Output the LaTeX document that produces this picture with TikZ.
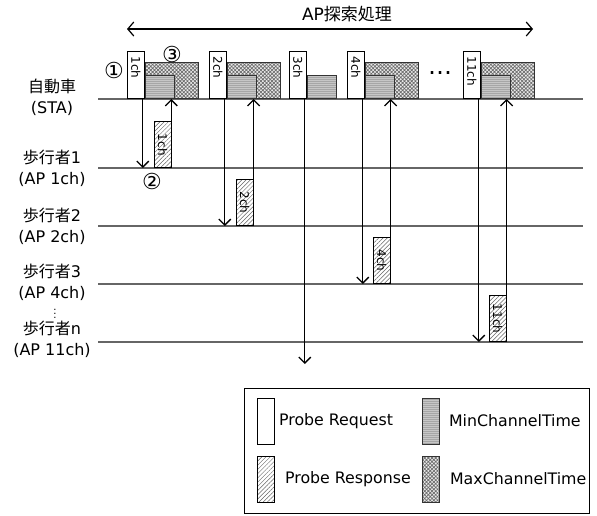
\documentclass[tikz,border=0pt]{standalone}
\usepackage{fontspec}
\setmainfont{DejaVu Sans}
\newfontfamily\jp{Noto Sans CJK JP}
\usepackage{graphicx}
\usetikzlibrary{arrows.meta, patterns.meta, positioning}
\tikzset{
  reqbox/.style={
    rectangle, draw=black, fill=white, line width=0.8pt,
    minimum width=17pt, minimum height=47pt, inner sep=0pt
  },
  maxbox/.style={
    rectangle, draw=black!80, line width=0.8pt,
    preaction={fill=gray!15},
    pattern={Hatch[angle=45, distance=2.6pt, line width=0.7pt]},
    pattern color=gray!85!black,
    minimum width=53pt, minimum height=36pt, inner sep=0pt
  },
  minbox/.style={
    rectangle, draw=black!80, line width=0.8pt,
    preaction={fill=gray!45},
    pattern={Lines[angle=0, distance=2pt, line width=0.6pt]},
    pattern color=gray!70,
    minimum width=29pt, minimum height=23pt, inner sep=0pt
  },
  respbox/.style={
    rectangle, draw=black, line width=0.8pt,
    preaction={fill=white},
    pattern={Lines[angle=45, distance=3pt, line width=0.5pt]},
    pattern color=gray!80!black,
    minimum width=17pt, minimum height=46pt, inner sep=0pt,
    font=\fontsize{12}{12}\selectfont
  },
  chlabel/.style={
    rotate=-90, anchor=west, inner xsep=5pt, inner ysep=0pt,
    font=\fontsize{12}{12}\selectfont
  },
  lifeline/.style={gray!80!black, line width=1.3pt},
  msgarrow/.style={-{Straight Barb[length=6pt, width=12pt]}, line width=1.3pt},
  scanarrow/.style={{Straight Barb[length=6pt, width=14pt]}-{Straight Barb[length=6pt, width=14pt]}, line width=1.2pt},
  namelabel/.style={align=center, font=\fontsize{16}{21}\selectfont},
  marklabel/.style={font=\fontsize{22}{22}\selectfont, inner sep=0pt},
  legtext/.style={inner sep=0pt, font=\fontsize{15.8}{15.8}\selectfont},
}

\begin{document}
\begin{tikzpicture}[x=1pt, y=-1pt]
  \useasboundingbox (0,0) rectangle (597,515);

  % scan period
  \node[font=\fontsize{17}{17}\selectfont] (title) at (347,14) {AP{\jp 探索処理}};
  \coordinate (scanL) at (127,29);
  \coordinate (scanR) at (533,29);
  \draw[scanarrow] (scanL) -- (scanR);

  % lifelines
  \coordinate (sta) at (98,99);
  \coordinate (ap1) at (98,168);
  \coordinate (ap2) at (98,226);
  \coordinate (ap3) at (98,284);
  \coordinate (apn) at (98,342);
  \foreach \ln in {sta,ap1,ap2,ap3,apn}
    \draw[lifeline] (\ln) -- ++(485,0);

  \node[namelabel] (sta-l) at (52,97.5) {{\jp 自動車}\\(STA)};
  \node[namelabel] (ap1-l) at (52,168) {{\jp 歩行者}1\\(AP 1ch)};
  \node[namelabel] (ap2-l) at (52,226) {{\jp 歩行者}2\\(AP 2ch)};
  \node[namelabel] (ap3-l) at (52,282.5) {{\jp 歩行者}3\\(AP 4ch)};
  \node[namelabel] (apn-l) at (52,339) {{\jp 歩行者}n\\(AP 11ch)};
  \node[font=\fontsize{10}{10}\selectfont, inner sep=0pt] (vdots) at (55,311) {$\vdots$};

  % channel 1
  \node[reqbox, anchor=south west, label={[chlabel]north:1ch}] (req1) at (127,99) {};
  \node[maxbox, anchor=south west] (max1) at (req1.south east) {};
  \node[minbox, anchor=south west] (min1) at (req1.south east) {};
  \node[respbox, anchor=south west] (resp1) at ([xshift=9pt]req1.south east |- ap1) {\rotatebox{-90}{1ch}};
  \coordinate (tx1) at ([xshift=-2pt]req1.south east);
  \draw[msgarrow] (tx1) -- (tx1 |- ap1);
  \draw[msgarrow] (resp1.south east) -- (resp1.south east |- sta);

  % channel 2
  \node[reqbox, anchor=south west, label={[chlabel]north:2ch}] (req2) at (209,99) {};
  \node[maxbox, anchor=south west] (max2) at (req2.south east) {};
  \node[minbox, anchor=south west] (min2) at (req2.south east) {};
  \node[respbox, anchor=south west] (resp2) at ([xshift=9pt]req2.south east |- ap2) {\rotatebox{-90}{2ch}};
  \coordinate (tx2) at ([xshift=-2pt]req2.south east);
  \draw[msgarrow] (tx2) -- (tx2 |- ap2);
  \draw[msgarrow] (resp2.south east) -- (resp2.south east |- sta);

  % channel 3 (no AP)
  \node[reqbox, anchor=south west, label={[chlabel]north:3ch}] (req3) at (289,99) {};
  \node[minbox, anchor=south west] (min3) at (req3.south east) {};
  \coordinate (tx3) at ([xshift=-2pt]req3.south east);
  \draw[msgarrow] (tx3) -- ++(0,265);

  % channel 4
  \node[reqbox, anchor=south west, label={[chlabel]north:4ch}] (req4) at (347,99) {};
  \node[maxbox, anchor=south west] (max4) at (req4.south east) {};
  \node[minbox, anchor=south west] (min4) at (req4.south east) {};
  \node[respbox, anchor=south west] (resp4) at ([xshift=8pt]req4.south east |- ap3) {\rotatebox{-90}{4ch}};
  \coordinate (tx4) at ([xshift=-2pt]req4.south east);
  \draw[msgarrow] (tx4) -- (tx4 |- ap3);
  \draw[msgarrow] (resp4.south east) -- (resp4.south east |- sta);

  \node[font=\fontsize{24}{24}\selectfont, inner sep=0pt] (dots) at (440,73) {…};

  % channel 11
  \node[reqbox, anchor=south west, label={[chlabel]north:11ch}] (req11) at (463,99) {};
  \node[maxbox, anchor=south west] (max11) at (req11.south east) {};
  \node[minbox, anchor=south west] (min11) at (req11.south east) {};
  \node[respbox, anchor=south west] (resp11) at ([xshift=8pt]req11.south east |- apn) {\rotatebox{-90}{11ch}};
  \coordinate (tx11) at ([xshift=-2pt]req11.south east);
  \draw[msgarrow] (tx11) -- (tx11 |- apn);
  \draw[msgarrow] (resp11.south east) -- (resp11.south east |- sta);

  % step marks
  \node[marklabel] (m1) at (114,70) {①};
  \node[marklabel] (m2) at (152,181) {②};
  \node[marklabel] (m3) at (172,54) {③};

  % legend
  \node[draw=black, line width=0.8pt, anchor=north west,
        minimum width=345pt, minimum height=125pt] (legend) at (244,388) {};
  \node[reqbox, minimum height=46pt] (legreq) at (266,421) {};
  \node[legtext, right=4pt of legreq] (legreq-t) {Probe Request};
  \node[respbox] (legresp) at (266,479) {};
  \node[legtext, right=10pt of legresp] (legresp-t) {Probe Response};
  \node[minbox, minimum width=17pt, minimum height=46pt] (legmin) at (431,421) {};
  \node[legtext, right=9pt of legmin] (legmin-t) {MinChannelTime};
  \node[maxbox, minimum width=17pt, minimum height=46pt] (legmax) at (431,479) {};
  \node[legtext, right=10pt of legmax] (legmax-t) {MaxChannelTime};
\end{tikzpicture}
\end{document}
